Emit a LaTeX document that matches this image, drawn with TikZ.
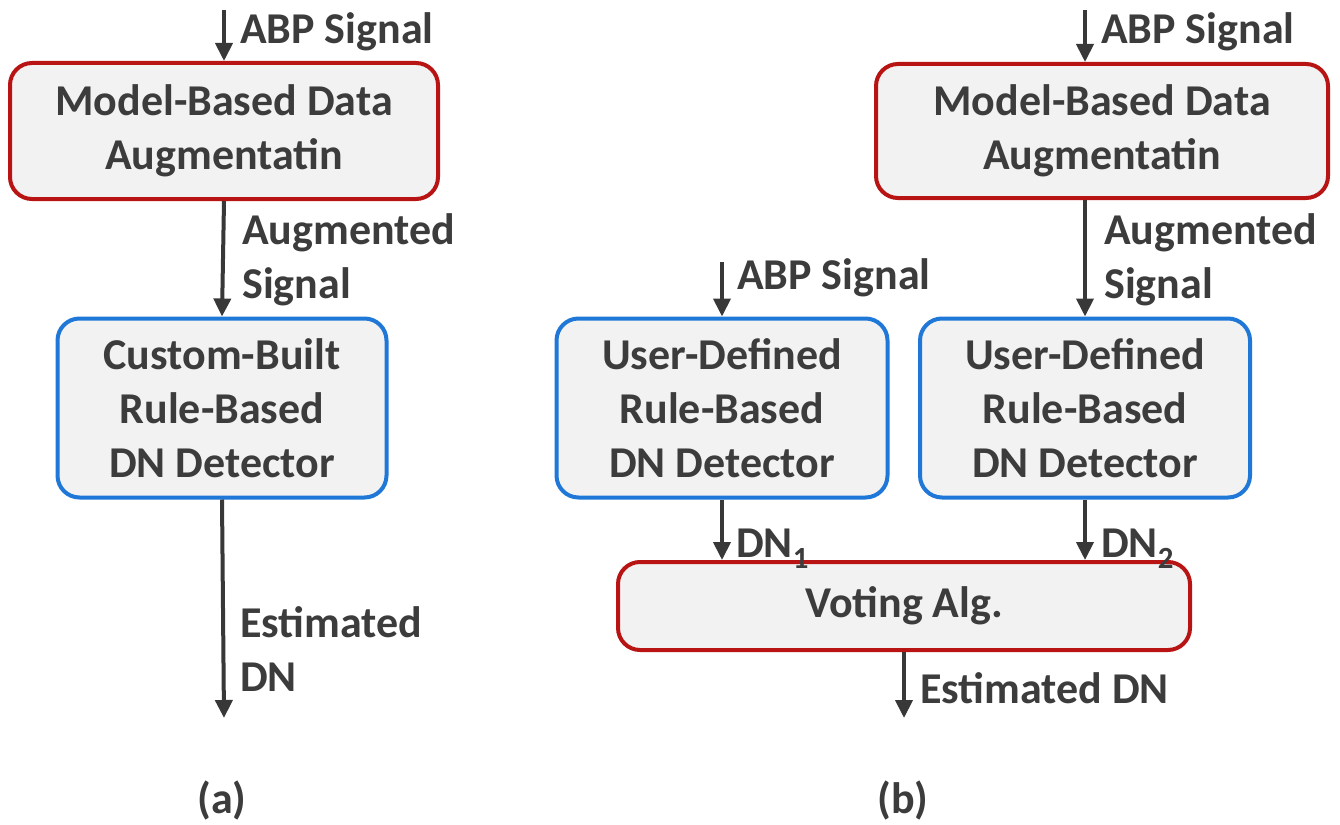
\documentclass[tikz,border=0pt]{standalone}
\usepackage{fontspec}
\setmainfont{Carlito}
\usetikzlibrary{arrows.meta,calc}
\definecolor{txt}{HTML}{3C3C3C}
\definecolor{arrc}{HTML}{383838}
\definecolor{redb}{HTML}{B81414}
\definecolor{blueb}{HTML}{1F78D8}
\definecolor{boxfill}{HTML}{F2F2F2}
\tikzset{
  base/.style={font=\fontsize{44}{54}\selectfont\bfseries, text=txt},
  boxr/.style={base, draw=redb, fill=boxfill, line width=4pt, rounded corners=22pt, align=center, inner sep=0pt},
  boxb/.style={base, draw=blueb, fill=boxfill, line width=4pt, rounded corners=22pt, align=center, inner sep=0pt},
  arr/.style={draw=arrc, line width=4pt, -{Triangle[length=18pt,width=17pt]}},
  lbl/.style={base, anchor=base west, inner sep=0pt, align=left},
}
\begin{document}
\begin{tikzpicture}[x=1pt,y=-1pt]
\useasboundingbox[fill=white] (0,0) rectangle (1340,824);
% (a)
\node[boxr, minimum width=428pt, minimum height=136pt] (a1) at (224,131) {Model-Based Data\\Augmentatin};
\node[boxb, minimum width=329pt, minimum height=179pt] (a2) at (222,408) {Custom-Built\\Rule-Based\\DN Detector};
\coordinate (a0) at (224,10);
\coordinate (aend) at (224,718);
\draw[arr] (a0) -- (a1.north);
\draw[arr] (a1.south) -- (a2.north);
\draw[arr] (a2.south) -- (aend);
\node[lbl] (la0) at (240,44) {ABP Signal};
\node[lbl] (la1) at (242,298) {Augmented\\Signal};
\node[lbl] (la2) at (240,691) {Estimated\\DN};
\node[base] (capa) at (222,800) {(a)};
% (b)
\node[boxr, minimum width=452pt, minimum height=134pt] (b1) at (1102,131) {Model-Based Data\\Augmentatin};
\node[boxb, minimum width=331pt, minimum height=179pt] (b2) at (722,408) {User-Defined\\Rule-Based\\DN Detector};
\node[boxb, minimum width=330pt, minimum height=179pt] (b3) at (1085,408) {User-Defined\\Rule-Based\\DN Detector};
\node[boxr, minimum width=572pt, minimum height=88pt] (v) at (904,606) {Voting Alg.};
\coordinate (b0) at (1085,10);
\coordinate (b2in) at (722,262);
\coordinate (bend) at (904,718);
\draw[arr] (b0) -- (b0 |- b1.north);
\draw[arr] (b1.south -| b3.north) -- (b3.north);
\draw[arr] (b2in) -- (b2.north);
\draw[arr] (b2.south) -- (b2.south |- v.north);
\draw[arr] (b3.south) -- (b3.south |- v.north);
\draw[arr] (v.south) -- (bend);
\node[lbl] (lb0) at (1101,44) {ABP Signal};
\node[lbl] (lb1) at (1104,298) {Augmented\\Signal};
\node[lbl] (lb2) at (737,289) {ABP Signal};
\node[lbl] (ld1) at (736,557) {DN\textsubscript{1}};
\node[lbl] (ld2) at (1101,557) {DN\textsubscript{2}};
\node[lbl] (lb3) at (920,703) {Estimated DN};
\node[base] (capb) at (903,800) {(b)};
\end{tikzpicture}
\end{document}
